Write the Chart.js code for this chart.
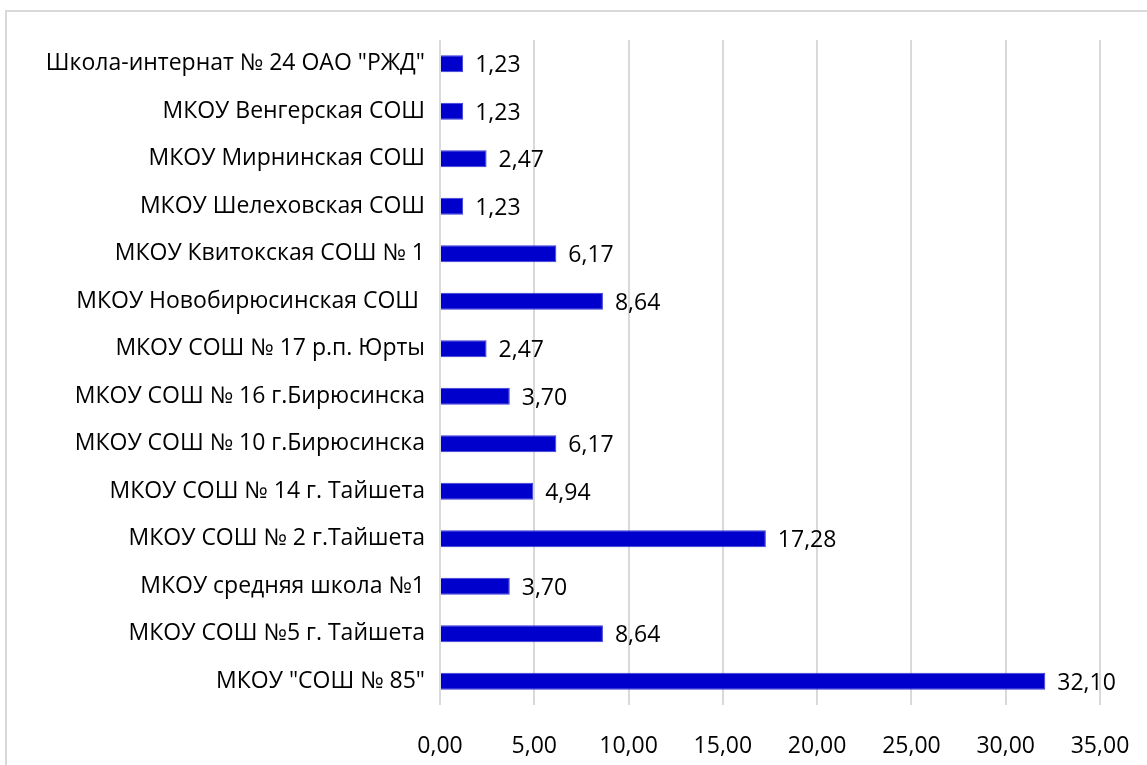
<!DOCTYPE html>
<html>
<head>
<meta charset="utf-8">
<script src="https://cdn.jsdelivr.net/npm/chart.js@4"></script>
<style>
  html, body { margin: 0; padding: 0; background: #fff; }
  #wrap { position: relative; width: 1147px; height: 765px; overflow: hidden; }
  #frame { position: absolute; left: 5px; top: 10px; width: 1200px; height: 800px; border: 2px solid #d9d9d9; box-sizing: border-box; }
  canvas { position: absolute; left: 0; top: 0; }
</style>
</head>
<body>
<div id="wrap">
  <div id="frame"></div>
  <canvas id="chart" width="1147" height="765"></canvas>
</div>
<script>
// schools, top to bottom
const schools = [
  'Школа-интернат № 24 ОАО "РЖД"',
  "МКОУ Венгерская СОШ",
  "МКОУ Мирнинская СОШ",
  "МКОУ Шелеховская СОШ",
  "МКОУ Квитокская СОШ № 1",
  "МКОУ Новобирюсинская СОШ ",
  "МКОУ СОШ № 17 р.п. Юрты",
  "МКОУ СОШ № 16 г.Бирюсинска",
  "МКОУ СОШ № 10 г.Бирюсинска",
  "МКОУ СОШ № 14 г. Тайшета",
  "МКОУ СОШ № 2 г.Тайшета",
  "МКОУ средняя школа №1",
  "МКОУ СОШ №5 г. Тайшета",
  'МКОУ "СОШ № 85"',
];
const shares = [1.23, 1.23, 2.47, 1.23, 6.17, 8.64, 2.47, 3.70, 6.17, 4.94, 17.28, 3.70, 8.64, 32.10];
const xMax = 35;
const xStep = 5;

const FONT = "'Open Sans', sans-serif";
const SIZE = 23;
const fmt = (v) => Number(v).toFixed(2).replace(".", ",");

// draws the value next to every bar
const valueLabels = {
  id: "valueLabels",
  afterDatasetsDraw(chart) {
    const ctx = chart.ctx;
    const meta = chart.getDatasetMeta(0);
    ctx.save();
    ctx.font = SIZE + "px " + FONT;
    ctx.fillStyle = "#000";
    ctx.textAlign = "left";
    ctx.textBaseline = "middle";
    meta.data.forEach((bar, i) => {
      ctx.fillText(fmt(shares[i]), bar.x + 12, bar.y + 2);
    });
    ctx.restore();
  },
};

new Chart(document.getElementById("chart"), {
  type: "bar",
  data: {
    labels: schools,
    datasets: [
      {
        data: shares,
        backgroundColor: "#0000CC",
        borderColor: "#3a3ad8",
        borderWidth: 1,
        barPercentage: 0.36,
        categoryPercentage: 1,
      },
    ],
  },
  options: {
    indexAxis: "y",
    responsive: false,
    animation: false,
    layout: { padding: { left: 0, right: 47, top: 40, bottom: 0 } },
    plugins: { legend: { display: false }, tooltip: { enabled: false } },
    scales: {
      x: {
        min: 0,
        max: xMax,
        ticks: {
          stepSize: xStep,
          padding: 28,
          color: "#000",
          font: { family: FONT, size: SIZE },
          callback: (v) => fmt(v),
        },
        grid: { color: "#d9d9d9", lineWidth: 2, drawTicks: false },
        border: { display: false },
        afterFit: (s) => {
          s.height = 60;
          s.paddingLeft = 0;
          s.paddingRight = 0;
        },
      },
      y: {
        ticks: {
          padding: 7,
          color: "#000",
          font: { family: FONT, size: SIZE },
        },
        grid: { display: false },
        border: { display: false },
        afterFit: (s) => { s.width = 440; },
      },
    },
  },
  plugins: [valueLabels],
});
</script>
</body>
</html>
